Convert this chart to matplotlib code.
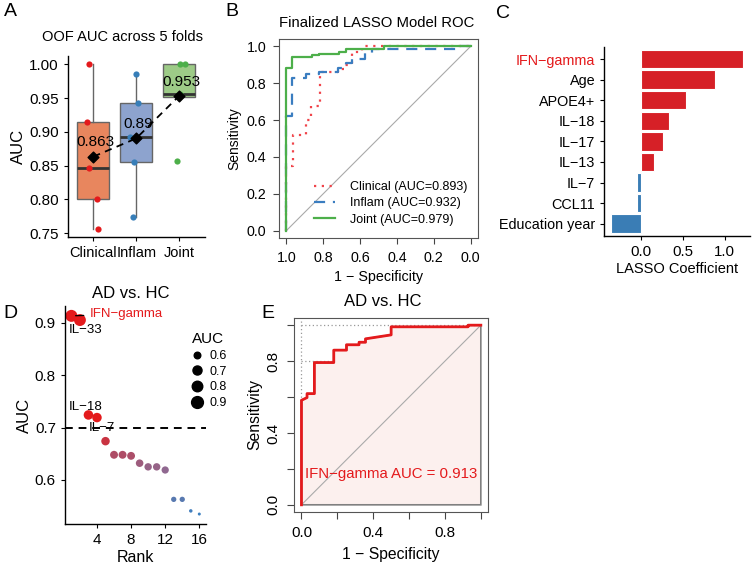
import matplotlib
matplotlib.use("Agg")
import matplotlib.pyplot as plt
import numpy as np
from matplotlib.colors import LinearSegmentedColormap, Normalize
from matplotlib.lines import Line2D

plt.rcParams['font.family'] = ['Liberation Sans', 'DejaVu Sans']
plt.rcParams['axes.unicode_minus'] = True

W, H = 752, 568

# A: out-of-fold AUC per fold
groups = ["Clinical", "Inflam", "Joint"]
auc_clinical = [1.000, 0.914, 0.846, 0.800, 0.756]
auc_inflam = [0.986, 0.943, 0.893, 0.855, 0.774]
auc_joint = [1.000, 1.000, 0.956, 0.952, 0.857]
jit_clinical = [-0.09, -0.14, -0.09, 0.08, 0.10]
jit_inflam = [-0.01, 0.05, -0.14, -0.04, -0.08]
jit_joint = [0.02, 0.14, 0.02, 0.0, -0.04]

# B: ROC curves of the final models (specificity, sensitivity)
clin_spec = [1, 1, 0.964, 0.964, 0.896, 0.896, 0.864, 0.864, 0.82, 0.82, 0.72, 0.72,
             0.684, 0.684, 0.645, 0.645, 0.59, 0.59, 0]
clin_sens = [0, 0.35, 0.35, 0.52, 0.52, 0.60, 0.60, 0.674, 0.674, 0.863, 0.863, 0.875,
             0.875, 0.90, 0.90, 0.97, 0.97, 1.0, 1.0]
infl_spec = [1, 1, 0.968, 0.968, 0.896, 0.896, 0.824, 0.824, 0.72, 0.72, 0.675, 0.675,
             0.645, 0.645, 0.573, 0.573, 0.537, 0.537, 0.08, 0.08, 0]
infl_sens = [0, 0.62, 0.62, 0.83, 0.83, 0.85, 0.85, 0.863, 0.863, 0.88, 0.88, 0.908,
             0.908, 0.931, 0.931, 0.962, 0.962, 0.984, 0.984, 1.0, 1.0]
joint_spec = [1, 1, 0.968, 0.968, 0.86, 0.86, 0.824, 0.824, 0.716, 0.716, 0.678, 0.678,
              0.468, 0.468, 0]
joint_sens = [0, 0.885, 0.885, 0.944, 0.944, 0.952, 0.952, 0.958, 0.958, 0.971, 0.971,
              0.985, 0.985, 1.0, 1.0]
roc_labels = ["Clinical (AUC=0.893)", "Inflam (AUC=0.932)", "Joint (AUC=0.979)"]

# C: LASSO coefficients
features = ["IFN\u2212gamma", "Age", "APOE4+", "IL\u221218", "IL\u221217", "IL\u221213",
            "IL\u22127", "CCL11", "Education year"]
coefs = [1.226, 0.889, 0.54, 0.333, 0.266, 0.159, -0.048, -0.052, -0.361]

# D: single marker AUC ranking
ranks = list(range(1, 17))
rank_auc = [0.913, 0.905, 0.724, 0.719, 0.674, 0.648, 0.648, 0.646, 0.632, 0.625,
            0.625, 0.619, 0.563, 0.563, 0.541, 0.535]
top_names = ["IFN\u2212gamma", "IL\u221233", "IL\u221218", "IL\u22127"]
size_breaks = [0.6, 0.7, 0.8, 0.9]

# E: IFN-gamma ROC (1 - specificity, sensitivity)
ifn_fpr = [0, 0, 0.031, 0.031, 0.072, 0.072, 0.18, 0.18, 0.251, 0.251, 0.321, 0.321,
           0.357, 0.357, 0.5, 0.5, 0.929, 0.929, 1.0]
ifn_tpr = [0, 0.582, 0.597, 0.619, 0.619, 0.792, 0.792, 0.861, 0.861, 0.891, 0.891,
           0.905, 0.905, 0.924, 0.946, 0.991, 0.991, 1.0, 1.0]


def add_ax(left, top, right, bottom):
    return fig.add_axes([left / W, 1 - bottom / H, (right - left) / W, (bottom - top) / H])


def ftext(x, y, s, **kw):
    fig.text(x / W, 1 - y / H, s, **kw)


def classic(ax):
    for s in ["top", "right"]:
        ax.spines[s].set_visible(False)
    for s in ["left", "bottom"]:
        ax.spines[s].set_linewidth(1.0)
    ax.tick_params(length=3, width=0.8, colors="black")


fig = plt.figure(figsize=(W / 100, H / 100), dpi=100)

# ---------------- A
axA = add_ax(67.6, 56, 204.8, 237.3)
classic(axA)
box_fill = ["#E8865E", "#8DA3CE", "#9DCB87"]
pt_col = ["#E41A1C", "#377EB8", "#4DAF4A"]
data = [auc_clinical, auc_inflam, auc_joint]
jits = [jit_clinical, jit_inflam, jit_joint]
bp = axA.boxplot(data, positions=[1, 2, 3], widths=0.75, patch_artist=True,
                 showcaps=False, showfliers=False,
                 medianprops=dict(color="#333333", linewidth=2),
                 whiskerprops=dict(color="#666666", linewidth=1),
                 boxprops=dict(edgecolor="#666666", linewidth=1))
for patch, c in zip(bp["boxes"], box_fill):
    patch.set_facecolor(c)
for i in range(3):
    axA.scatter(np.array(jits[i]) + i + 1, data[i], s=20, color=pt_col[i], zorder=3,
                linewidths=0)
means = [np.mean(d) for d in data]
axA.plot([1, 2, 3], means, ls=(0, (4, 3)), color="black", lw=1.3, zorder=4)
axA.scatter([1, 2, 3], means, marker="D", s=30, color="black", zorder=5)
for i, m in enumerate(means):
    axA.text(i + 1.05, m + 0.011, f"{round(m, 3):g}", ha="center", va="bottom",
             fontsize=11, zorder=6)
axA.set_xlim(0.4, 3.6)
axA.set_ylim(0.7438, 1.0122)
axA.set_xticks([1, 2, 3])
axA.set_xticklabels(groups, fontsize=10.5)
axA.set_yticks([0.75, 0.80, 0.85, 0.90, 0.95, 1.00])
axA.set_yticklabels([f"{v:.2f}" for v in [0.75, 0.80, 0.85, 0.90, 0.95, 1.00]], fontsize=11)
axA.set_ylabel("AUC", fontsize=12, labelpad=2)
ftext(122.5, 37, "OOF AUC across 5 folds", ha="center", va="center", fontsize=10.5)

# ---------------- B
axB = add_ax(279, 39, 478, 238)
for s in axB.spines.values():
    s.set_color("#555555")
axB.plot([1, 0], [0, 1], color="#AAAAAA", lw=0.8)
axB.plot(clin_spec, clin_sens, color="#F0444A", ls=(0, (1, 2.5)), lw=1.6, label=roc_labels[0])
axB.plot(infl_spec, infl_sens, color="#3A7DC0", ls=(0, (5, 3.5)), lw=1.6, label=roc_labels[1])
axB.plot(joint_spec, joint_sens, color="#4DAF4A", lw=1.6, label=roc_labels[2])
axB.set_xlim(1.04, -0.04)
axB.set_ylim(-0.04, 1.04)
ticks = [0, 0.2, 0.4, 0.6, 0.8, 1.0]
axB.set_xticks(ticks)
axB.set_xticklabels([f"{t:.1f}" for t in ticks], fontsize=10.3)
axB.set_yticks(ticks)
axB.set_yticklabels([f"{t:.1f}" for t in ticks], fontsize=10.3)
axB.tick_params(length=4, width=0.8, colors="#444444", labelcolor="black", pad=5)
axB.set_xlabel("1 \u2212 Specificity", fontsize=10.3, labelpad=4)
axB.set_ylabel("Sensitivity", fontsize=10, labelpad=4)
axB.legend(loc="lower right", bbox_to_anchor=(474 / W, 1 - 232 / H),
           bbox_transform=fig.transFigure, frameon=False, fontsize=9,
           handlelength=1.7, handletextpad=1.2, labelspacing=0.35, borderpad=0)
ftext(377, 23, "Finalized LASSO Model ROC", ha="center", va="center", fontsize=10.7)

# ---------------- C
axC = add_ax(604.3, 46.7, 750, 236)
classic(axC)
ypos = np.arange(len(features), 0, -1)
bar_col = ["#D62027" if c > 0 else "#3A7DB5" for c in coefs]
axC.barh(ypos, coefs, height=0.9, color=bar_col, edgecolor="white", linewidth=0.8)
axC.set_xlim(-0.44, 1.305)
axC.set_ylim(0.4, 9.6)
axC.set_yticks(ypos)
axC.set_yticklabels(features, fontsize=10.4)
axC.get_yticklabels()[0].set_color("#E41A1C")
axC.set_xticks([0.0, 0.5, 1.0])
axC.set_xticklabels(["0.0", "0.5", "1.0"], fontsize=10.8)
axC.set_xlabel("LASSO Coefficient", fontsize=10.5, labelpad=2)

# ---------------- D
axD = add_ax(65, 305.9, 205.7, 524)
classic(axD)


def dot_px(a):
    return np.interp(a, [0.535, 0.563, 0.62, 0.72, 0.913], [3, 5.3, 7.3, 9.5, 12])


cmap = LinearSegmentedColormap.from_list("auc", ["#3C80C0", "#8E6A92", "#E41A1C"])
norm = Normalize(0.535, 0.70, clip=True)
axD.axhline(0.7, color="black", ls=(0, (4, 3)), lw=1.4, zorder=1)
axD.scatter(ranks, rank_auc, s=(dot_px(rank_auc) * 0.72) ** 2,
            c=cmap(norm(rank_auc)), linewidths=0, zorder=2)
axD.annotate(top_names[0], xy=(ranks[0], rank_auc[0]), xytext=(3.1, 0.9166),
             color="#E41A1C", fontsize=9.5, va="center", ha="left",
             arrowprops=dict(arrowstyle="-", color="black", lw=0.9, shrinkA=2, shrinkB=3),
             zorder=3)
axD.text(2.67, 0.886, top_names[1], fontsize=9.5, ha="center", va="center", zorder=3)
axD.text(2.67, 0.739, top_names[2], fontsize=9.5, ha="center", va="center", zorder=3)
axD.text(4.57, 0.700, top_names[3], fontsize=9.5, ha="center", va="center", zorder=3)
axD.set_xlim(0.25, 16.75)
axD.set_ylim(0.516, 0.932)
axD.set_xticks([4, 8, 12, 16])
axD.set_yticks([0.6, 0.7, 0.8, 0.9])
axD.tick_params(labelsize=11)
axD.set_xlabel("Rank", fontsize=11.5, labelpad=2)
axD.set_ylabel("AUC", fontsize=12, labelpad=2)
handles = [Line2D([], [], marker="o", ls="", color="black",
                  markersize=dot_px(b) * 0.72) for b in size_breaks]
axD.legend(handles, [f"{b}" for b in size_breaks], title="AUC", loc="upper left",
           bbox_to_anchor=(183 / W, 1 - 326 / H), bbox_transform=fig.transFigure,
           frameon=False, fontsize=9, title_fontsize=11, handletextpad=0.4,
           labelspacing=0.3, borderpad=0, handlelength=1.2)
ftext(131, 293, "AD vs. HC", ha="center", va="center", fontsize=12)

# ---------------- E
axE = add_ax(294.3, 318, 488, 512)
for s in axE.spines.values():
    s.set_color("#555555")
axE.fill(np.r_[ifn_fpr, 1, 0], np.r_[ifn_tpr, 0, 0], facecolor="#FCF0EE",
         edgecolor="#808080", lw=1.2, zorder=1)
axE.plot([0, 1], [0, 1], color="#AAAAAA", lw=0.8, zorder=2)
axE.plot([0, 1], [1, 1], color="#999999", ls=(0, (1, 2)), lw=0.9, zorder=2)
axE.plot([0, 0.18], [0.8, 0.8], color="#999999", ls=(0, (1, 2)), lw=0.9, zorder=2)
axE.plot([0, 0], [0.58, 1.04], color="#999999", ls=(0, (1, 2)), lw=0.9, zorder=2)
axE.plot(ifn_fpr, ifn_tpr, color="#E41A1C", lw=2, zorder=3)
axE.text(0.5, 0.173, "IFN\u2212gamma AUC = 0.913", color="#E41A1C", ha="center",
         va="center", fontsize=10.8, zorder=4)
axE.set_xlim(-0.04, 1.04)
axE.set_ylim(-0.04, 1.04)
axE.set_xticks(ticks)
axE.set_xticklabels(["0.0", "", "0.4", "", "0.8", ""], fontsize=11)
axE.set_yticks(ticks)
axE.set_yticklabels(["0.0", "", "0.4", "", "0.8", ""], fontsize=11, rotation=90,
                    va="center")
axE.tick_params(length=5, width=0.8, colors="#444444", labelcolor="black", pad=5)
axE.set_xlabel("1 \u2212 Specificity", fontsize=11.3, labelpad=5)
axE.set_ylabel("Sensitivity", fontsize=11.3, labelpad=3)
ftext(383, 301, "AD vs. HC", ha="center", va="center", fontsize=12)

# panel letters
for lab, x, y in [("A", 10, 12), ("B", 232, 12), ("C", 503, 13), ("D", 10, 313), ("E", 268, 313)]:
    ftext(x, y, lab, ha="center", va="center", fontsize=14)

fig.savefig("out.png", dpi=100)
